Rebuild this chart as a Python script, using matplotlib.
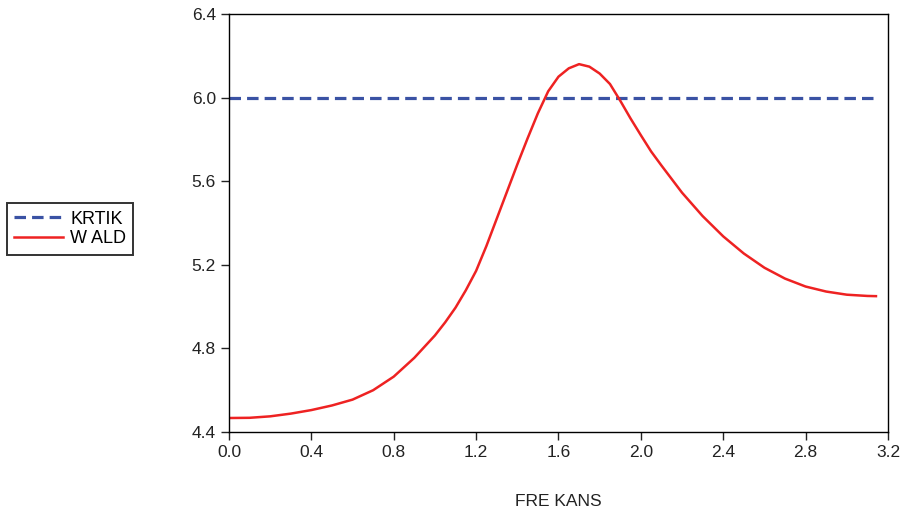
import numpy as np
import matplotlib.pyplot as plt

# frequency grid and Wald statistic
frekans = [0.0, 0.1, 0.2, 0.3, 0.4, 0.5, 0.6, 0.7, 0.8, 0.9, 1.0, 1.05, 1.1,
           1.15, 1.2, 1.25, 1.3, 1.35, 1.4, 1.45, 1.5, 1.55, 1.6, 1.65, 1.7,
           1.75, 1.8, 1.85, 1.9, 1.95, 2.0, 2.05, 2.1, 2.2, 2.3, 2.4, 2.5, 2.6,
           2.7, 2.8, 2.9, 3.0, 3.1, 3.1416]
wald = [4.467, 4.468, 4.475, 4.488, 4.505, 4.527, 4.555, 4.600, 4.665, 4.755,
        4.862, 4.925, 4.995, 5.078, 5.171, 5.290, 5.420, 5.550, 5.680, 5.805,
        5.925, 6.030, 6.100, 6.140, 6.160, 6.148, 6.115, 6.065, 5.985, 5.900,
        5.820, 5.742, 5.675, 5.545, 5.433, 5.336, 5.254, 5.186, 5.134, 5.096,
        5.072, 5.057, 5.051, 5.050]
kritik = 6.0

plt.rcParams['font.family'] = ['Liberation Sans', 'DejaVu Sans']

fig = plt.figure(figsize=(9.13, 5.14), dpi=100)
ax = fig.add_axes([0.2508, 0.1595, 0.7218, 0.8133])

ax.plot([0, 3.1416], [kritik, kritik], color='#3a52a4', lw=2.3,
        dashes=(3.6, 1.9), label='KRTIK')
ax.plot(frekans, wald, color='#ee2222', lw=1.8, label='W ALD')

ax.set_xlim(0, 3.2)
ax.set_ylim(4.4, 6.4)
ax.set_xticks(np.arange(0, 3.21, 0.4))
ax.set_yticks(np.arange(4.4, 6.41, 0.4))
ax.xaxis.set_major_formatter(plt.FormatStrFormatter('%.1f'))
ax.yaxis.set_major_formatter(plt.FormatStrFormatter('%.1f'))
ax.tick_params(direction='out', length=6, width=1, labelsize=12.5,
               colors='#222222')
for s in ax.spines.values():
    s.set_linewidth(1)
ax.set_xlabel('FRE KANS', fontsize=12.5, labelpad=24, color='#222222')

leg = fig.legend(loc='center left', bbox_to_anchor=(7 / 913, 1 - 229 / 514),
                 borderaxespad=0, fontsize=13, frameon=True, fancybox=False,
                 edgecolor='black', handlelength=2.7, handletextpad=0.4,
                 borderpad=0.4, labelspacing=0.15)
leg.get_frame().set_linewidth(1.4)

fig.savefig('out.png', dpi=100)
